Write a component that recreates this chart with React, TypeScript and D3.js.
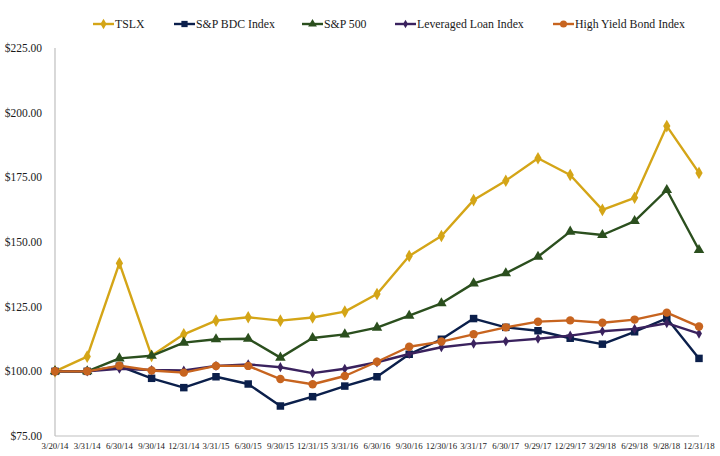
import React from 'react';
import * as d3 from 'd3';

const dates = [
  '3/20/14', '3/31/14', '6/30/14', '9/30/14', '12/31/14', '3/31/15', '6/30/15',
  '9/30/15', '12/31/15', '3/31/16', '6/30/16', '9/30/16', '12/30/16', '3/31/17',
  '6/30/17', '9/29/17', '12/29/17', '3/29/18', '6/29/18', '9/28/18', '12/31/18',
];

const tslx = [100, 105.7, 141.8, 106, 114.3, 119.6, 120.9, 119.6, 120.8, 123.1, 129.9, 144.6, 152.3, 166.2, 173.7, 182.4, 175.9, 162.4, 167.1, 194.8, 176.7];
const bdc = [100, 100, 102, 97.3, 93.7, 97.9, 95.1, 86.6, 90.2, 94.3, 97.9, 106.6, 112.4, 120.4, 117, 115.7, 112.8, 110.5, 115.3, 120.5, 105];
const sp500 = [100, 100, 105, 106, 111.1, 112.4, 112.6, 105.3, 112.9, 114.3, 116.9, 121.5, 126.3, 134, 137.9, 144.3, 154, 152.7, 158.1, 170.1, 146.9];
const levLoan = [100, 100, 101, 100.5, 100.3, 102.1, 102.7, 101.6, 99.3, 101, 103.5, 106.7, 109.3, 110.7, 111.6, 112.6, 113.8, 115.5, 116.4, 118.6, 114.6];
const highYield = [100, 100, 102.2, 100.3, 99.5, 102.1, 102.1, 97, 95, 98.2, 103.7, 109.5, 111.5, 114.3, 117, 119.2, 119.7, 118.8, 120, 122.7, 117.3];

const yTicks = [75, 100, 125, 150, 175, 200, 225];

const series = [
  { name: 'TSLX', values: tslx, color: '#D4A517', symbol: d3.symbolDiamond, size: 46, legendX: 93 },
  { name: 'S&P BDC Index', values: bdc, color: '#0B1F4B', symbol: d3.symbolSquare, size: 56, legendX: 174 },
  { name: 'S&P 500', values: sp500, color: '#2B4F1E', symbol: d3.symbolTriangle, size: 48, legendX: 302 },
  { name: 'Leveraged Loan Index', values: levLoan, color: '#3A225E', symbol: d3.symbolDiamond, size: 30, legendX: 395 },
  { name: 'High Yield Bond Index', values: highYield, color: '#C7641F', symbol: d3.symbolCircle, size: 56, legendX: 553 },
];

const width = 720;
const height = 456;
const font = '"Liberation Serif", "DejaVu Serif", serif';

export default function App() {
  const x = d3.scalePoint<string>().domain(dates).range([55, 699]);
  const y = d3.scaleLinear().domain([75, 225]).range([436, 48]);

  const line = d3.line<number>()
    .x((_, i) => x(dates[i]) as number)
    .y(d => y(d));

  return (
    <svg width={width} height={height} style={{ position: 'absolute', left: 0, top: 0, background: '#fff' }}>
      {/* axes */}
      <line x1={55} x2={55} y1={y(225)} y2={y(75)} stroke="#BFBFBF" strokeWidth={1.2} />
      <line x1={55} x2={699} y1={y(75)} y2={y(75)} stroke="#BFBFBF" strokeWidth={1.2} />

      {yTicks.map(t => (
        <text key={t} x={42} y={y(t)} dy="0.35em" textAnchor="end" fontFamily={font} fontSize={11.5} fill="#1a1a1a">
          {`$${t.toFixed(2)}`}
        </text>
      ))}

      {dates.map(d => (
        <text key={d} x={x(d)} y={449} textAnchor="middle" fontFamily={font} fontSize={8.8} fill="#1a1a1a">
          {d}
        </text>
      ))}

      {series.map(s => (
        <g key={s.name}>
          <path d={line(s.values) || ''} fill="none" stroke={s.color} strokeWidth={2.4} strokeLinejoin="round" />
          {s.values.map((v, i) => (
            <path
              key={i}
              d={d3.symbol().type(s.symbol).size(s.size)() || ''}
              transform={`translate(${x(dates[i])},${y(v)})`}
              fill={s.color}
            />
          ))}
        </g>
      ))}

      {/* legend */}
      {series.map(s => (
        <g key={'lg' + s.name} transform={`translate(${s.legendX},24)`}>
          <line x1={0} x2={21} y1={0} y2={0} stroke={s.color} strokeWidth={2.4} />
          <path d={d3.symbol().type(s.symbol).size(s.size * 0.7)() || ''} transform="translate(10.5,0)" fill={s.color} />
          <text x={22} y={0} dy="0.35em" fontFamily={font} fontSize={11.8} fill="#1a1a1a">
            {s.name}
          </text>
        </g>
      ))}
    </svg>
  );
}
